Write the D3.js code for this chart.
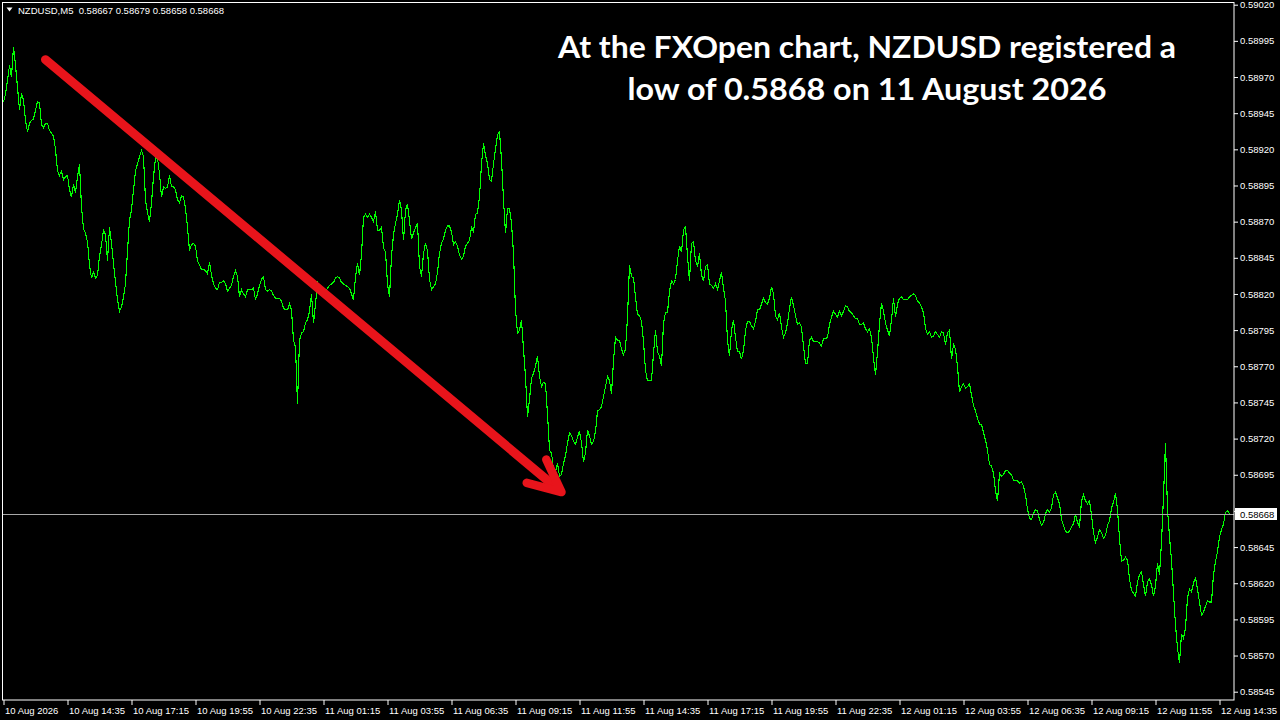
<!DOCTYPE html>
<html><head><meta charset="utf-8">
<script src="https://cdn.jsdelivr.net/npm/d3@7"></script>
<style>html,body{margin:0;padding:0;background:#000;overflow:hidden}</style>
</head><body><svg id="c" width="1280" height="720"></svg>
<script>
// ---------------- data ----------------
const symbolLabel = "NZDUSD,M5";
const ohlcLabels = ["0.58667", "0.58679", "0.58658", "0.58668"];
const titleLines = ["At the FXOpen chart, NZDUSD registered a", "low of 0.5868 on 11 August 2026"];
const firstBarTime = Date.UTC(2026, 7, 10, 11, 55);   // 10 Aug 2026 11:55
const barMinutes = 5;
const priceBase = 0.585;          // closes are stored in points (1e-5) above this base
const closePoints = [
453,458,468,478,470,491,478,463,447,459,454,440,432,438,440,441,447,453,452,437,
435,438,438,433,431,429,420,405,402,405,399,401,402,392,387,396,390,401,410,380,
365,362,356,340,331,335,331,333,346,354,364,361,343,366,355,341,328,316,308,311,
318,327,350,371,378,392,405,410,415,419,415,385,376,370,383,401,414,414,403,387,
394,393,394,402,394,394,392,385,383,388,387,379,366,350,354,355,353,343,340,337,
337,336,334,342,333,327,324,323,328,328,329,327,322,324,326,332,336,332,318,323,
320,318,323,323,323,324,316,320,326,330,332,323,322,323,322,319,317,317,317,315,
310,309,309,313,309,288,283,244,288,293,294,300,302,308,320,300,313,328,325,320,
319,322,324,326,327,328,331,332,331,328,327,326,325,324,320,316,332,341,333,347,
373,375,373,375,373,370,377,364,364,366,352,349,327,318,346,361,369,375,385,378,
357,378,382,371,358,362,366,369,339,332,348,355,350,330,323,325,327,335,348,355,
358,364,367,367,363,354,356,353,347,344,346,353,355,357,366,363,375,376,387,410,
424,416,410,399,398,410,420,430,432,413,385,362,379,379,369,348,309,293,295,302,
282,263,235,247,262,265,270,277,263,256,259,258,237,212,210,199,197,203,194,195,
203,208,217,224,222,218,216,221,225,217,204,210,226,222,216,218,225,239,240,242,
249,256,263,260,251,274,290,288,288,282,278,282,304,340,332,331,318,306,305,301,
287,267,260,260,260,279,295,280,277,270,300,307,307,322,329,327,330,343,353,349,
364,367,346,329,355,356,343,339,348,333,329,339,340,327,326,324,327,323,329,335,
324,315,288,277,295,302,290,280,280,275,281,295,301,301,298,296,301,309,309,313,
317,314,313,317,325,320,305,302,307,297,290,293,300,310,318,312,305,299,300,297,
284,272,272,288,290,287,287,287,286,284,289,289,290,299,304,308,306,304,308,305,
308,312,311,308,307,305,303,303,299,299,300,296,294,296,290,276,264,280,299,314,
308,300,295,291,302,317,304,313,317,318,316,316,316,318,319,320,319,315,314,311,
307,296,292,294,290,291,294,292,290,294,293,285,293,295,275,285,282,270,252,256,
258,255,256,258,250,243,239,234,230,230,224,219,212,202,201,196,184,177,196,194,
195,198,198,196,195,191,191,191,189,190,187,181,171,165,164,168,171,170,164,160,
162,168,171,169,172,181,183,179,175,164,160,156,155,156,159,161,168,162,159,177,
181,177,175,177,167,155,148,152,157,155,151,153,160,163,172,176,182,171,151,135,
136,138,136,123,115,113,111,121,126,128,119,111,121,123,119,111,118,134,126,148,
180,217,171,152,136,113,91,75,65,85,82,89,110,116,114,120,124,116,107,98,
100,104,108,107,107,126,135,142,152,157,161,169,170,168
];
const priceTicks = [0.58545,0.58570,0.58595,0.58620,0.58645,0.58670,0.58695,0.58720,0.58745,0.58770,
                    0.58795,0.58820,0.58845,0.58870,0.58895,0.58920,0.58945,0.58970,0.58995,0.59020];
const timeTickLabels = ["10 Aug 2026","10 Aug 14:35","10 Aug 17:15","10 Aug 19:55","10 Aug 22:35",
  "11 Aug 01:15","11 Aug 03:55","11 Aug 06:35","11 Aug 09:15","11 Aug 11:55","11 Aug 14:35",
  "11 Aug 17:15","11 Aug 19:55","11 Aug 22:35","12 Aug 01:15","12 Aug 03:55","12 Aug 06:35",
  "12 Aug 09:15","12 Aug 11:55","12 Aug 14:35"];
const tickEveryBars = 32;
const currentPrice = 0.58668;
const arrowFrom = {bar: 21, price: 0.58982};
const arrowTo = {bar: 279, price: 0.58683};

// ---------------- chart ----------------
const svg = d3.select("#c");
const W = 1280, H = 720;
const plot = {left: 3, right: 1234, top: 2, bottom: 700};
const axisFont = "'Liberation Sans', Arial, sans-serif";

svg.append("rect").attr("width", W).attr("height", H).attr("fill", "#000");

const barTime = i => new Date(firstBarTime + i * barMinutes * 60000);
const nBars = closePoints.length;
const x = d3.scaleUtc()
  .domain([barTime(0), barTime(nBars - 1)])
  .range([plot.left + 0.5, plot.left + 0.5 + 2 * (nBars - 1)]);
const y = d3.scaleLinear().domain([0.58545, 0.59020]).range([691.7, 4.7]);

const data = closePoints.map((p, i) => ({t: barTime(i), c: priceBase + p / 1e5}));

// clip
svg.append("clipPath").attr("id", "clip").append("rect")
  .attr("x", plot.left).attr("y", plot.top).attr("width", plot.right - plot.left).attr("height", plot.bottom - plot.top);

// price line
svg.append("path").datum(data)
  .attr("clip-path", "url(#clip)")
  .attr("fill", "none").attr("stroke", "#00ff00").attr("stroke-width", 1.1)
  .attr("shape-rendering", "crispEdges")
  .attr("d", d3.line().x(d => x(d.t)).y(d => y(d.c)));

// current price line
const yc = Math.round(y(currentPrice)) + 0.5;
svg.append("line").attr("x1", plot.left).attr("x2", plot.right).attr("y1", yc).attr("y2", yc)
  .attr("stroke", "#a8a8a8").attr("stroke-width", 1);

// frame
svg.append("rect").attr("x", plot.left - 0.5).attr("y", plot.top + 0.5)
  .attr("width", plot.right - plot.left + 0.5).attr("height", plot.bottom - plot.top - 0.5)
  .attr("fill", "none").attr("stroke", "#ffffff").attr("stroke-width", 1);

// right axis
const yAxis = svg.append("g").attr("transform", `translate(${plot.right},0)`)
  .call(d3.axisRight(y).tickValues(priceTicks).tickSize(4).tickPadding(2).tickFormat(d3.format(".5f")));
yAxis.select(".domain").remove();
yAxis.selectAll("line").attr("stroke", "#fff");
yAxis.selectAll("text").attr("fill", "#fff").attr("font-family", axisFont).attr("font-size", "9.5px");
// the tick label hidden under the current-price box in the reference
yAxis.selectAll(".tick").filter(d => Math.abs(y(d) - yc) < 8).select("text").remove();

// current price box
const boxG = svg.append("g");
boxG.append("rect").attr("x", 1235).attr("y", yc - 6.5).attr("width", 42).attr("height", 12).attr("fill", "#fff");
boxG.append("text").attr("x", 1240).attr("y", yc).attr("dy", "0.34em")
  .attr("fill", "#000").attr("font-family", axisFont).attr("font-size", "9.5px")
  .text(d3.format(".5f")(currentPrice));

// bottom axis
const tickDates = timeTickLabels.map((_, k) => barTime(k * tickEveryBars));
const xAxis = svg.append("g").attr("transform", `translate(0,${plot.bottom})`)
  .call(d3.axisBottom(x).tickValues(tickDates).tickSize(5).tickFormat((d, i) => timeTickLabels[i]));
xAxis.select(".domain").remove();
xAxis.selectAll("line").attr("stroke", "#fff");
xAxis.selectAll("text").attr("fill", "#fff").attr("font-family", axisFont).attr("font-size", "9.5px")
  .attr("text-anchor", "start").attr("x", 1).attr("y", 7).attr("dy", "0.71em");

// header
svg.append("path").attr("d", "M6.5,7.5 L12.5,7.5 L9.5,11.5 Z").attr("fill", "#fff");
svg.append("text").attr("x", 18).attr("y", 14).attr("fill", "#fff")
  .attr("font-family", axisFont).attr("font-size", "9.5px")
  .attr("xml:space", "preserve")
  .text(symbolLabel + "  " + ohlcLabels.join(" "));

// arrow
const ax0 = x(barTime(arrowFrom.bar)), ay0 = y(arrowFrom.price);
const ax1 = x(barTime(arrowTo.bar)), ay1 = y(arrowTo.price);
const ang = Math.atan2(ay0 - ay1, ax0 - ax1);
const headLen = 36, spread = 25 * Math.PI / 180;
const arrowG = svg.append("g").attr("stroke", "#e8141b").attr("fill", "none")
  .attr("stroke-linecap", "round").attr("stroke-linejoin", "round");
arrowG.append("line").attr("x1", ax0).attr("y1", ay0).attr("x2", ax1 - 6 * Math.cos(ang + Math.PI)).attr("y2", ay1 - 6 * Math.sin(ang + Math.PI))
  .attr("stroke-width", 9);
arrowG.append("path").attr("stroke-width", 8.5)
  .attr("d", `M${ax1 + headLen * Math.cos(ang - spread)},${ay1 + headLen * Math.sin(ang - spread)} L${ax1},${ay1} L${ax1 + headLen * Math.cos(ang + spread)},${ay1 + headLen * Math.sin(ang + spread)}`);

// title
const titleG = svg.append("g").attr("fill", "#fff").attr("font-family", "Lato, 'Open Sans', sans-serif")
  .attr("font-weight", 700).attr("font-size", "31px").attr("text-anchor", "middle");
titleG.append("text").attr("x", 867).attr("y", 58).attr("textLength", 618).attr("lengthAdjust", "spacingAndGlyphs").text(titleLines[0]);
titleG.append("text").attr("x", 867).attr("y", 100).attr("textLength", 479).attr("lengthAdjust", "spacingAndGlyphs").text(titleLines[1]);
</script>
</body></html>
